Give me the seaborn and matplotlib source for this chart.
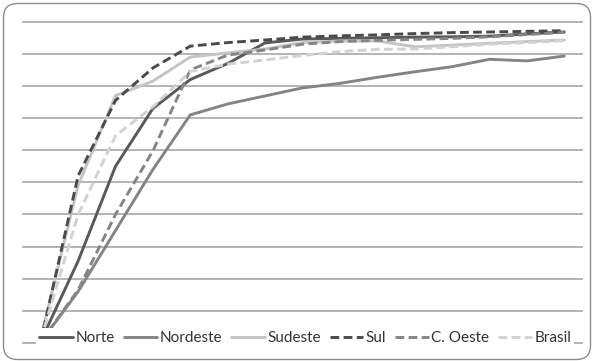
import matplotlib
matplotlib.use("Agg")
import matplotlib.pyplot as plt
import seaborn as sns
import pandas as pd
from matplotlib.patches import FancyBboxPatch
from matplotlib.transforms import IdentityTransform

# ---- data ----
pontos = list(range(1, 16))
norte    = [0.5, 25.5, 55.0, 73.0, 82.0, 87.0, 93.4, 94.6, 94.8, 95.0, 95.2, 95.3, 95.5, 96.2, 96.8]
nordeste = [0.3, 16.0, 35.0, 54.0, 71.0, 74.4, 76.9, 79.4, 80.8, 82.7, 84.4, 86.0, 88.3, 87.8, 89.3]
sudeste  = [1.5, 49.0, 77.0, 81.5, 89.0, 90.3, 91.5, 93.5, 94.0, 94.0, 92.2, 92.7, 93.3, 93.8, 94.3]
sul      = [0.5, 52.0, 75.5, 85.6, 92.4, 93.5, 94.3, 95.2, 95.6, 95.9, 96.3, 96.6, 96.8, 97.0, 97.2]
c_oeste  = [0.3, 16.5, 40.0, 59.8, 85.0, 89.6, 91.2, 93.0, 93.8, 94.2, 94.5, 94.8, 95.3, 96.0, 96.7]
brasil   = [1.0, 40.0, 64.5, 73.5, 84.5, 86.8, 88.1, 89.5, 90.7, 91.4, 91.5, 92.2, 93.0, 93.5, 94.1]

regioes = ["Norte", "Nordeste", "Sudeste", "Sul", "C. Oeste", "Brasil"]
valores = [norte, nordeste, sudeste, sul, c_oeste, brasil]

rows = []
for nome, vals in zip(regioes, valores):
    for p, v in zip(pontos, vals):
        rows.append({"ponto": p, "valor": v, "regiao": nome})
df = pd.DataFrame(rows)

# ---- styling ----
sns.set_style("white")
plt.rcParams['font.family'] = ['Lato', 'DejaVu Sans']

W, H = 594, 361
fig = plt.figure(figsize=(W / 100, H / 100), dpi=100)
pad_u = 0.5
ppu = (343 - 21.7) / 100.0
ax_bottom_px = 343 + pad_u * ppu
ax_top_px = 21.7 - pad_u * ppu
ax = fig.add_axes([22 / W, (H - ax_bottom_px) / H, 561 / W, (ax_bottom_px - ax_top_px) / H])

palette = {"Norte": "#595959", "Nordeste": "#848484", "Sudeste": "#c4c4c4",
           "Sul": "#4a4a4a", "C. Oeste": "#848484", "Brasil": "#d2d2d2"}
dashes = {"Norte": "", "Nordeste": "", "Sudeste": "",
          "Sul": (3, 1.5), "C. Oeste": (3, 1.5), "Brasil": (3, 1.5)}

sns.lineplot(data=df, x="ponto", y="valor", hue="regiao", style="regiao",
             hue_order=regioes, style_order=regioes, palette=palette,
             dashes=dashes, linewidth=2.1, ax=ax, legend=True)

ax.set_xlim(0.5, 15.5)
ax.set_ylim(-pad_u, 100 + pad_u)
ax.set_yticks(range(0, 101, 10))
ax.yaxis.grid(True, color="#a0a0a0", linewidth=1.1)
ax.xaxis.grid(False)
ax.set_axisbelow(True)
ax.tick_params(left=False, bottom=False, labelleft=False, labelbottom=False)
for s in ax.spines.values():
    s.set_visible(False)
ax.set_xlabel("")
ax.set_ylabel("")

handles, labels = ax.get_legend_handles_labels()
hl = [(h, l) for h, l in zip(handles, labels) if l in regioes]
leg = ax.legend([h for h, _ in hl], [l for _, l in hl], loc="center",
                bbox_to_anchor=(0.505, 0.02), ncol=6, frameon=True, framealpha=1,
                facecolor="white", edgecolor="none", fancybox=False,
                handlelength=2.2, handletextpad=0.15, columnspacing=0.6,
                fontsize=11, borderpad=0.2, borderaxespad=0)
for t in leg.get_texts():
    t.set_color("#333333")

# rounded chart border
border = FancyBboxPatch((3.5, 1.5), 587, 356, boxstyle="round,pad=0,rounding_size=14",
                        transform=IdentityTransform(), fill=False,
                        edgecolor="#8c8c8c", linewidth=1.0)
fig.add_artist(border)

fig.savefig("out.png", dpi=100)
